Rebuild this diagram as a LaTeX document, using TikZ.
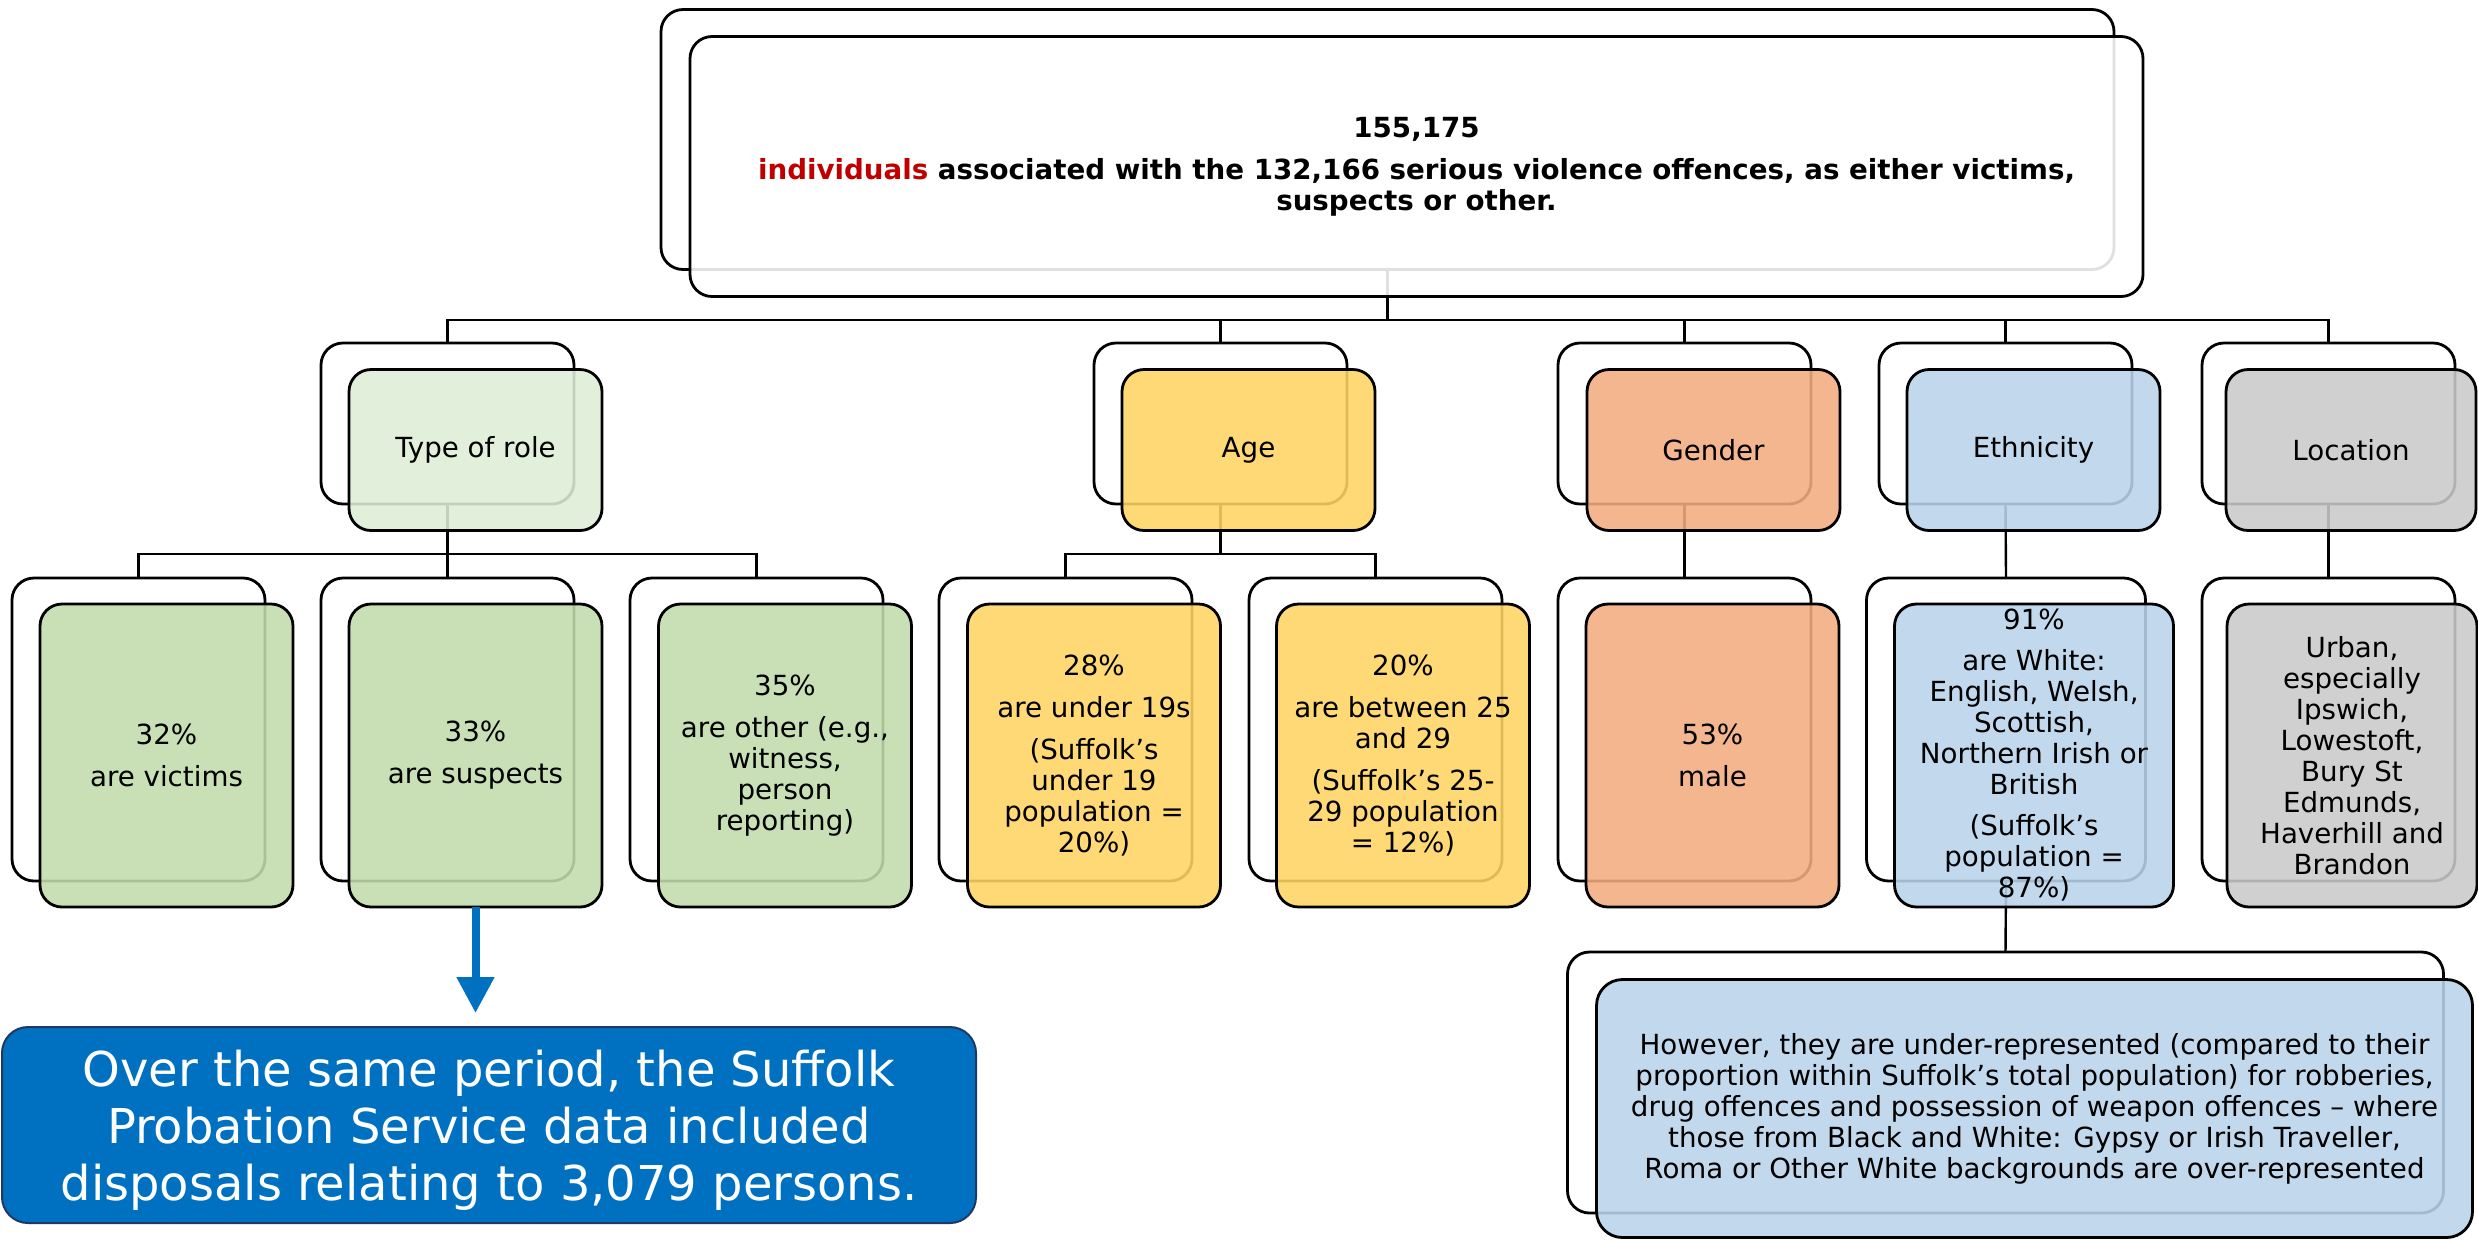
\documentclass[tikz,border=0pt]{standalone}
\usepackage{fontspec}
\setmainfont{DejaVu Sans}
\usetikzlibrary{arrows.meta}
\definecolor{roleCat}{RGB}{222,237,213}
\definecolor{roleKid}{RGB}{194,220,173}
\definecolor{ageF}{RGB}{255,212,99}
\definecolor{genderF}{RGB}{242,172,127}
\definecolor{ethF}{RGB}{186,211,235}
\definecolor{locF}{RGB}{202,202,202}
\definecolor{probBlue}{RGB}{0,112,192}
\definecolor{probEdge}{RGB}{32,56,100}
\definecolor{darkRed}{RGB}{192,0,0}
\begin{document}
\begin{tikzpicture}[x=0.5pt,y=-0.5pt,
  backbox/.style={draw=black, fill=white, line width=1.4pt, rounded corners=11pt, inner sep=0pt, outer sep=0pt},
  frontbox/.style={draw=black, line width=1.4pt, rounded corners=11pt, inner sep=0pt, outer sep=0pt,
    fill opacity=0.88, text opacity=1, align=center, font=\fontsize{13.85pt}{15.5pt}\selectfont},
  catsize/.style={minimum width=126.5pt, minimum height=80.5pt},
  kidsize/.style={minimum width=126.5pt, minimum height=151.5pt},
  conn/.style={line width=1.2pt, draw=black},
  bluebox/.style={draw=probEdge, fill=probBlue, line width=1pt, rounded corners=13pt, inner sep=0pt, outer sep=0pt,
    minimum width=487pt, minimum height=98pt, align=center, text=white, font=\fontsize{24pt}{28.5pt}\selectfont},
  bluearrow/.style={draw=probBlue, line width=4pt, -{Triangle[length=18pt,width=18pt]}}
]
\useasboundingbox (0,0) rectangle (2478,1239);

% ---------- back boxes ----------
\node[backbox, minimum width=726.5pt, minimum height=130pt] (topB) at (1387.5,139.5) {};
\node[backbox, catsize] (roleB) at (447.5,423.5) {};
\node[backbox, catsize] (ageB) at (1220.5,423.5) {};
\node[backbox, catsize] (genB) at (1684.5,423.5) {};
\node[backbox, catsize] (ethB) at (2005.5,423.5) {};
\node[backbox, catsize] (locB) at (2328.5,423.5) {};

\node[backbox, kidsize] (vicB) at (138.5,729.5) {};
\node[backbox, kidsize] (susB) at (447.5,729.5) {};
\node[backbox, kidsize] (othB) at (756.5,729.5) {};
\node[backbox, kidsize] (u19B) at (1065.5,729.5) {};
\node[backbox, kidsize] (a25B) at (1375.5,729.5) {};
\node[backbox, kidsize] (maleB) at (1684.5,729.5) {};
\node[backbox, kidsize, minimum width=139.5pt] (whiteB) at (2006,729.5) {};
\node[backbox, kidsize] (urbB) at (2328.5,729.5) {};

\node[backbox, minimum width=438pt, minimum height=130.5pt] (underB) at (2005.5,1082.5) {};

% ---------- connectors ----------
\coordinate (busTop) at (1387.5,320);
\coordinate (busRole) at (447.5,554);
\coordinate (busAge) at (1220.5,554);
\draw[conn] (topB.south) -- (busTop) -| (roleB.north);
\draw[conn] (busTop) -| (ageB.north);
\draw[conn] (busTop) -| (genB.north);
\draw[conn] (busTop) -| (ethB.north);
\draw[conn] (busTop) -| (locB.north);

\draw[conn] (roleB.south) -- (busRole) -| (vicB.north);
\draw[conn] (busRole) -- (susB.north);
\draw[conn] (busRole) -| (othB.north);

\draw[conn] (ageB.south) -- (busAge) -| (u19B.north);
\draw[conn] (busAge) -| (a25B.north);

\draw[conn] (genB.south) -- (maleB.north);
\draw[conn] (ethB.south) -- (whiteB.north);
\draw[conn] (locB.south) -- (urbB.north);
\draw[conn] (whiteB.south) -- (underB.north);

% ---------- front boxes ----------
\node[frontbox, fill=white, minimum width=726.5pt, minimum height=130pt, font=\fontsize{13.85pt}{15.5pt}\selectfont\bfseries] (topF) at (1416.5,166.5)
  {155,175\\[5.5pt]
   {\color{darkRed}individuals} associated with the 132,166 serious violence offences, as either victims,\\
   suspects or other.};

\node[frontbox, catsize, fill=roleCat] (roleF) at (475.5,450) {Type of role};
\node[frontbox, catsize, fill=ageF] (ageF) at (1248.5,450) {Age};
\node[frontbox, catsize, fill=genderF] (genF) at (1713.5,450) {Gender};
\node[frontbox, catsize, fill=ethF] (ethF) at (2033.5,450) {Ethnicity};
\node[frontbox, catsize, fill=locF, minimum width=125pt] (locF) at (2351,450) {Location};

\node[frontbox, kidsize, fill=roleKid] (vicF) at (166.5,755.5) {32\%\\[5.5pt] are victims};
\node[frontbox, kidsize, fill=roleKid] (susF) at (475.5,755.5) {33\%\\[5.5pt] are suspects};
\node[frontbox, kidsize, fill=roleKid] (othF) at (785,755.5)
  {35\%\\[5.5pt] are other (e.g.,\\ witness,\\ person\\ reporting)};
\node[frontbox, kidsize, fill=ageF] (u19F) at (1094,755.5)
  {28\%\\[5.5pt] are under 19s\\[5.5pt] (Suffolk’s\\ under 19\\ population =\\ 20\%)};
\node[frontbox, kidsize, fill=ageF] (a25F) at (1403,755.5)
  {20\%\\[5.5pt] are between 25\\ and 29\\[5.5pt] (Suffolk’s 25-\\ 29 population\\ = 12\%)};
\node[frontbox, kidsize, fill=genderF] (maleF) at (1712.5,755.5) {53\%\\[5.5pt] male};
\node[frontbox, kidsize, fill=ethF, minimum width=139.5pt] (whiteF) at (2034,755.5)
  {91\%\\[5pt] are White:\\ English, Welsh,\\ Scottish,\\ Northern Irish or\\ British\\[5pt] (Suffolk’s\\ population =\\ 87\%)};
\node[frontbox, kidsize, fill=locF, minimum width=125pt] (urbF) at (2352,755.5)
  {Urban,\\ especially\\ Ipswich,\\ Lowestoft,\\ Bury St\\ Edmunds,\\ Haverhill and\\ Brandon};

\node[frontbox, fill=ethF, minimum width=438pt, minimum height=129pt, rounded corners=13pt] (underF) at (2034.5,1108.5)
  {However, they are under-represented (compared to their\\
   proportion within Suffolk’s total population) for robberies,\\
   drug offences and possession of weapon offences – where\\
   those from Black and White: Gypsy or Irish Traveller,\\
   Roma or Other White backgrounds are over-represented};

% ---------- probation box and arrow ----------
\node[bluebox] (probF) at (489,1125)
  {\rule{0pt}{23pt}Over the same period, the Suffolk\\ Probation Service data included\\ disposals relating to 3,079 persons.};
\coordinate (arrowEnd) at (475.5,1013);
\draw[bluearrow] (susF.south) -- (arrowEnd);
\end{tikzpicture}
\end{document}
